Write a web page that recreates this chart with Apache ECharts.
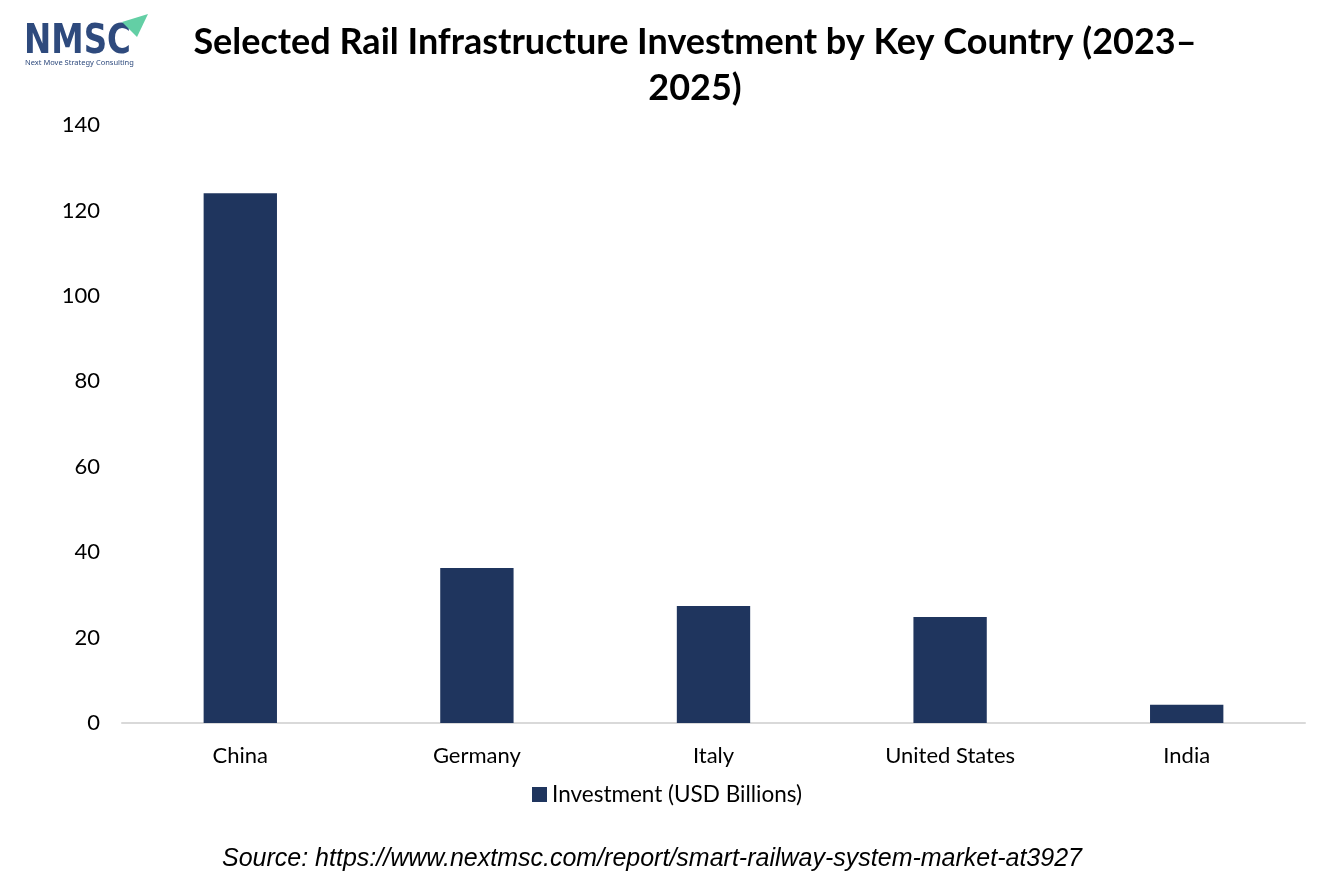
<!DOCTYPE html>
<html lang="en">
<head>
    <meta charset="UTF-8">
    <title>Selected Rail Infrastructure Investment by Key Country</title>
    <style>
        html, body { margin: 0; padding: 0; background: #fff; }
        #chartBox { width: 1334px; height: 889px; }
    </style>
</head>
<body>
<div id="chartBox"></div>
<script type="text/javascript" src="https://cdn.jsdelivr.net/npm/echarts@6/dist/echarts.min.js"></script>
<script type="text/javascript">
    // data
    var countries = ["China", "Germany", "Italy", "United States", "India"];
    var investment = [124, 36.3, 27.4, 24.8, 4.3];
    var seriesName = "Investment (USD Billions)";

    var myChart = echarts.init(document.getElementById("chartBox"));
    var font = "Lato, 'Open Sans', sans-serif";

    myChart.setOption({
        animation: false,
        backgroundColor: "#ffffff",
        title: {
            text: "Selected Rail Infrastructure Investment by Key Country (2023–\n2025)",
            left: 690,
            top: 14,
            textAlign: "center",
            textStyle: {
                fontFamily: font,
                fontWeight: "bold",
                fontSize: 36,
                lineHeight: 46,
                color: "#000000"
            }
        },
        legend: {
            data: [seriesName],
            bottom: 78,
            left: "center",
            itemWidth: 15,
            itemHeight: 15,
            icon: "rect",
            textStyle: { fontFamily: font, fontSize: 22.5, color: "#000000" }
        },
        grid: { left: 122, right: 29, top: 125, bottom: 166 },
        xAxis: {
            type: "category",
            data: countries,
            axisTick: { show: false },
            axisLine: { lineStyle: { color: "#d9d9d9", width: 2 } },
            axisLabel: { fontFamily: font, fontSize: 22, color: "#000000", margin: 22 }
        },
        yAxis: {
            type: "value",
            min: 0,
            max: 140,
            interval: 20,
            splitLine: { show: false },
            axisLine: { show: false },
            axisTick: { show: false },
            axisLabel: { fontFamily: font, fontSize: 22, color: "#000000", margin: 22 }
        },
        series: [{
            name: seriesName,
            type: "bar",
            data: investment,
            barWidth: "31%",
            itemStyle: { color: "#1f355e" }
        }],
        graphic: [
            {
                type: "text",
                x: 24,
                y: 22,
                scaleX: 1.05,
                scaleY: 1.3,
                style: {
                    text: "NMSC",
                    fontFamily: "'DejaVu Sans', sans-serif",
                    fontWeight: "bold",
                    fontSize: 31,
                    fill: "#2e4a7d"
                }
            },
            {
                type: "polygon",
                shape: { points: [[122, 22], [148, 14], [137, 37]] },
                style: { fill: "#63cfa5" }
            },
            {
                type: "text",
                x: 25,
                y: 59,
                style: {
                    text: "Next Move Strategy Consulting",
                    fontFamily: "'Noto Sans', sans-serif",
                    fontSize: 7.5,
                    fill: "#2e4a7d"
                }
            },
            {
                type: "text",
                x: 652,
                y: 847,
                style: {
                    text: "Source: https://www.nextmsc.com/report/smart-railway-system-market-at3927",
                    fontFamily: "'Liberation Sans', Arial, sans-serif",
                    fontStyle: "italic",
                    fontSize: 25,
                    fill: "#000000",
                    align: "center"
                }
            }
        ]
    });
</script>
</body>
</html>
